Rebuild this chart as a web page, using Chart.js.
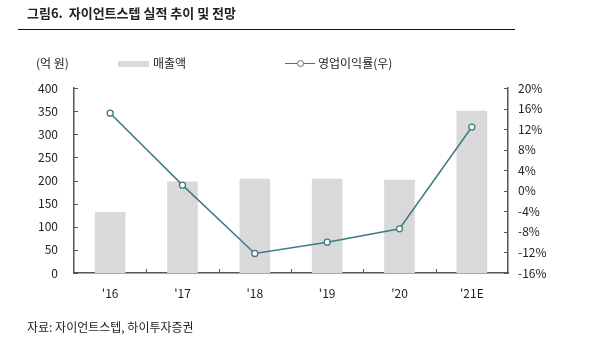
<!DOCTYPE html>
<html>
<head>
<meta charset="utf-8">
<script src="https://cdn.jsdelivr.net/npm/chart.js@4"></script>
<style>
  body { margin: 0; background: #fff; font-family: 'Noto Sans CJK KR', 'Noto Sans', sans-serif; color: #222; }
  #wrap { position: relative; width: 599px; height: 354px; overflow: hidden; }
  #chart { position: absolute; left: 0; top: 0; }
  .txt { position: absolute; white-space: nowrap; font-size: 12px; line-height: 14px; }
  #title { left: 27px; top: 6px; font-size: 13px; font-weight: bold; color: #222; }
  #rule { position: absolute; left: 18px; top: 29px; width: 497px; height: 1px; background: #111; }
  #unit { left: 36px; top: 56px; }
  #lg1box { position: absolute; left: 118px; top: 61px; width: 31px; height: 6px; background: #d9d9d9; }
  #lg1 { left: 153px; top: 56px; }
  #lg2line { position: absolute; left: 285px; top: 63px; width: 30px; height: 1px; background: #3d7b84; }
  #lg2dot { position: absolute; left: 297px; top: 60px; width: 5px; height: 5px; border: 1px solid #3d7b84; border-radius: 50%; background: #fff; }
  #lg2 { left: 318px; top: 56px; }
  #source { left: 27px; top: 320px; }
</style>
</head>
<body>
<div id="wrap">
  <canvas id="chart" width="599" height="354"></canvas>
  <div class="txt" id="title">그림6.&nbsp;&nbsp;자이언트스텝 실적 추이 및 전망</div>
  <div id="rule"></div>
  <div class="txt" id="unit">(억 원)</div>
  <div id="lg1box"></div>
  <div class="txt" id="lg1">매출액</div>
  <div id="lg2line"></div>
  <div id="lg2dot"></div>
  <div class="txt" id="lg2">영업이익률(우)</div>
  <div class="txt" id="source">자료: 자이언트스텝, 하이투자증권</div>
</div>
<script>
// chart data
const years = ["'16", "'17", "'18", "'19", "'20", "'21E"];
const sales = [131, 197, 203, 203, 201, 350];          // 매출액 (억 원)
const opMargin = [15.1, 1.1, -12.2, -10.0, -7.4, 12.4]; // 영업이익률 (%)

const axisColor = '#555';
const fontFamily = "'Noto Sans CJK KR', 'Noto Sans', sans-serif";

// draw small tick marks pointing inside the plot area
const innerTicks = {
    id: 'innerTicks',
    afterDraw(chart) {
        const ctx = chart.ctx;
        const area = chart.chartArea;
        const len = 4;
        ctx.save();
        ctx.strokeStyle = axisColor;
        ctx.lineWidth = 1;
        ctx.beginPath();
        const y = chart.scales.y;
        y.ticks.forEach((t, i) => {
            const p = Math.round(y.getPixelForTick(i)) + 0.5;
            ctx.moveTo(area.left, p);
            ctx.lineTo(area.left + len, p);
        });
        const y1 = chart.scales.y1;
        y1.ticks.forEach((t, i) => {
            const p = Math.round(y1.getPixelForTick(i)) + 0.5;
            ctx.moveTo(area.right, p);
            ctx.lineTo(area.right - len, p);
        });
        const x = chart.scales.x;
        for (let i = 1; i < years.length; i++) {
            const p = Math.round((x.getPixelForTick(i - 1) + x.getPixelForTick(i)) / 2) + 0.5;
            ctx.moveTo(p, area.bottom);
            ctx.lineTo(p, area.bottom - len);
        }
        ctx.stroke();
        ctx.restore();
    }
};

new Chart(document.getElementById('chart'), {
    data: {
        labels: years,
        datasets: [
            {
                type: 'line',
                label: '영업이익률(우)',
                data: opMargin,
                yAxisID: 'y1',
                borderColor: '#3d7b84',
                borderWidth: 1.5,
                pointRadius: 3,
                pointBorderWidth: 1.3,
                pointBackgroundColor: '#fff',
                pointBorderColor: '#3d7b84',
                tension: 0,
                order: 0
            },
            {
                type: 'bar',
                label: '매출액',
                data: sales,
                yAxisID: 'y',
                backgroundColor: '#d9d9d9',
                barThickness: 30,
                order: 1
            }
        ]
    },
    options: {
        responsive: false,
        animation: false,
        layout: { padding: { top: 88, left: 0, right: 0, bottom: 0 } },
        plugins: {
            legend: { display: false },
            tooltip: { enabled: false }
        },
        scales: {
            x: {
                offset: true,
                grid: { display: false, drawTicks: false },
                border: { color: axisColor, width: 1.5 },
                ticks: { color: '#222', padding: 13, font: { family: fontFamily, size: 12 } },
                afterFit(s) { s.height = 81; }
            },
            y: {
                position: 'left',
                min: 0, max: 400,
                grid: { display: false, drawTicks: false },
                border: { color: axisColor, width: 1.5 },
                ticks: { stepSize: 50, color: '#222', padding: 16, font: { family: fontFamily, size: 12 } },
                afterFit(s) { s.width = 74; }
            },
            y1: {
                position: 'right',
                min: -16, max: 20,
                grid: { display: false, drawTicks: false },
                border: { color: axisColor, width: 1.5 },
                ticks: {
                    stepSize: 4, color: '#222', padding: 10,
                    font: { family: fontFamily, size: 12 },
                    callback: v => v + '%'
                },
                afterFit(s) { s.width = 91; }
            }
        }
    },
    plugins: [innerTicks]
});
</script>
</body>
</html>
